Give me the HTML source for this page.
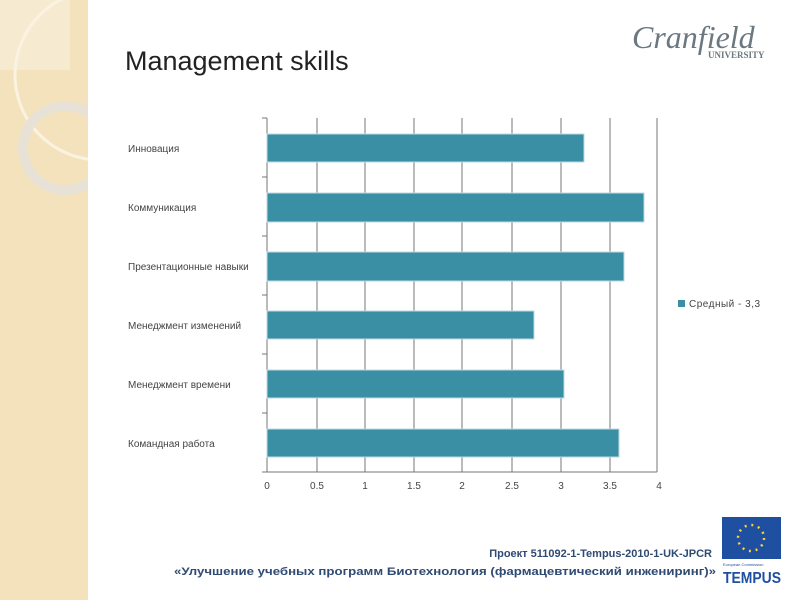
<!DOCTYPE html>
<html><head><meta charset="utf-8"><style>
body{margin:0;width:800px;height:600px;background:#fff;position:relative;overflow:hidden;font-family:"Liberation Sans","DejaVu Sans",sans-serif}
</style></head><body>
<svg width="800" height="600" style="position:absolute;left:0;top:0">
<defs><clipPath id="c"><rect x="0" y="0" width="88" height="600"/></clipPath></defs>
<rect x="0" y="0" width="88" height="600" fill="#f3e2bb"/>
<g clip-path="url(#c)">
<rect x="0" y="0" width="70" height="70" fill="#f6ead0"/>
<circle cx="100" cy="75" r="85" fill="none" stroke="#fbf3e2" stroke-width="3"/>
<circle cx="65" cy="148" r="42" fill="none" stroke="#e8e2d6" stroke-width="10"/>
</g>
<text x="125" y="70" font-size="27" fill="#222" font-family="Liberation Sans,sans-serif">Management skills</text>
<text x="632" y="48" font-size="32" font-style="italic" fill="#6b7880" font-family="Liberation Serif,serif">Cranfield</text>
<text x="708" y="58" font-size="9" fill="#6b7880" font-family="Liberation Serif,serif" font-weight="bold">UNIVERSITY</text>
<g stroke="#777" stroke-width="1">
<line x1="317" y1="118" x2="317" y2="472"/><line x1="365" y1="118" x2="365" y2="472"/>
<line x1="414" y1="118" x2="414" y2="472"/><line x1="462" y1="118" x2="462" y2="472"/>
<line x1="512" y1="118" x2="512" y2="472"/><line x1="561" y1="118" x2="561" y2="472"/>
<line x1="610" y1="118" x2="610" y2="472"/><line x1="657" y1="118" x2="657" y2="472"/>
<line x1="267" y1="118" x2="267" y2="472"/><line x1="262" y1="472" x2="657" y2="472"/>
<line x1="262" y1="118" x2="267" y2="118"/><line x1="262" y1="177" x2="267" y2="177"/>
<line x1="262" y1="236" x2="267" y2="236"/><line x1="262" y1="295" x2="267" y2="295"/>
<line x1="262" y1="354" x2="267" y2="354"/><line x1="262" y1="413" x2="267" y2="413"/>
</g>
<g fill="#3a8fa5" stroke="#bcd9e0" stroke-width="1">
<rect x="267" y="134" width="317" height="28"/>
<rect x="267" y="193" width="377" height="29"/>
<rect x="267" y="252" width="357" height="29"/>
<rect x="267" y="311" width="267" height="28"/>
<rect x="267" y="370" width="297" height="28"/>
<rect x="267" y="429" width="352" height="28"/>
</g>
<g font-size="10" fill="#444">
<text x="128" y="152">Инновация</text>
<text x="128" y="211">Коммуникация</text>
<text x="128" y="270">Презентационные навыки</text>
<text x="128" y="329">Менеджмент изменений</text>
<text x="128" y="388">Менеджмент времени</text>
<text x="128" y="447">Командная работа</text>
</g>
<g font-size="10" fill="#444" text-anchor="middle">
<text x="267" y="489">0</text><text x="317" y="489">0.5</text><text x="365" y="489">1</text>
<text x="414" y="489">1.5</text><text x="462" y="489">2</text><text x="512" y="489">2.5</text>
<text x="561" y="489">3</text><text x="610" y="489">3.5</text><text x="659" y="489">4</text>
</g>
<rect x="678" y="300" width="7" height="7" fill="#3a8fa5"/>
<text x="689" y="307" font-size="10" fill="#444" letter-spacing="0.5">Средный - 3,3</text>
<text x="712" y="557" font-size="11" fill="#2f4a73" font-weight="bold" text-anchor="end">Проект  511092-1-Tempus-2010-1-UK-JPCR</text>
<text x="716" y="575" font-size="11" fill="#2f4a73" font-weight="bold" text-anchor="end" textLength="542" lengthAdjust="spacingAndGlyphs">«Улучшение учебных программ Биотехнология (фармацевтический инжениринг)»</text>
<rect x="722" y="517" width="59" height="42" fill="#1f4fa0"/>
<circle cx="751" cy="538" r="13" fill="none" stroke="#f5d33b" stroke-width="2.5" stroke-dasharray="2 4.8"/>
<text x="723" y="566" font-size="4" fill="#1f4fa0">European Commission</text>
<text x="723" y="583" font-size="16" font-weight="bold" fill="#1f4fa0" textLength="58" lengthAdjust="spacingAndGlyphs">TEMPUS</text>
</svg>
</body></html>
